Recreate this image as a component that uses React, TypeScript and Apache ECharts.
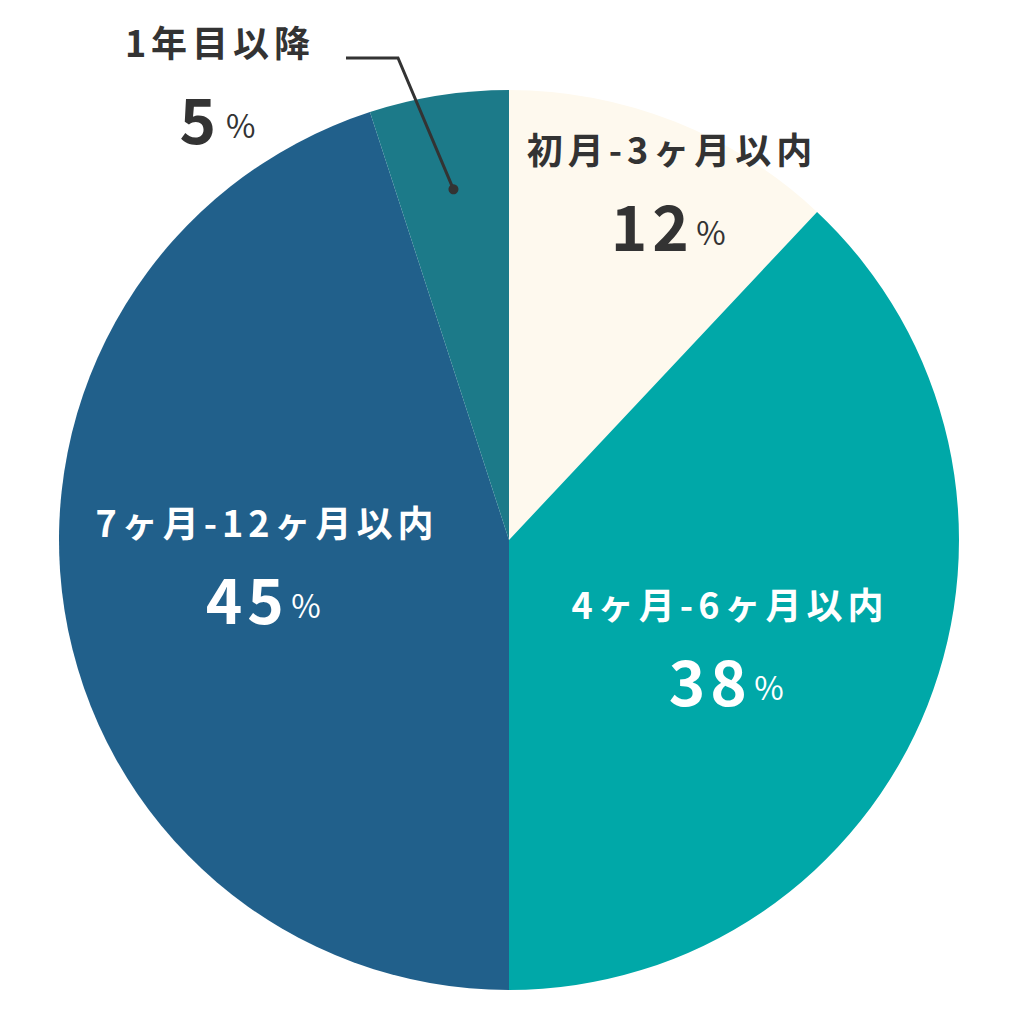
import { useEffect, useRef } from "react";
import * as echarts from "echarts";

const categories = ["初月-3ヶ月以内", "4ヶ月-6ヶ月以内", "7ヶ月-12ヶ月以内", "1年目以降"];
const shares = [12, 38, 45, 5];
const sliceColors = ["#FEF9EE", "#00A8A8", "#21608B", "#1C7A89"];
const labelColors = ["#333333", "#ffffff", "#ffffff", "#333333"];

// label block centres
const labelSpots = [
  [672, 187],
  [730, 642],
  [267, 560],
  [220, 80],
];

const CX = 509;
const CY = 540;
const R = 450;

function midPoint(index: number, r: number) {
  const total = shares.reduce((a, b) => a + b, 0);
  const before = shares.slice(0, index).reduce((a, b) => a + b, 0);
  const mid = ((before + shares[index] / 2) / total) * Math.PI * 2;
  return [CX + r * Math.sin(mid), CY - r * Math.cos(mid)];
}

export default function App() {
  const ref = useRef<HTMLDivElement>(null);

  useEffect(() => {
    if (!ref.current) return;
    const chart = echarts.init(ref.current, null, { renderer: "svg" });
    const dot = midPoint(3, 355);

    chart.setOption({
      animation: false,
      backgroundColor: "#ffffff",
      textStyle: { fontFamily: "'Noto Sans CJK JP', 'Noto Sans', sans-serif" },
      graphic: [
        {
          type: "polyline",
          shape: { points: [dot, [398, 58], [346, 58]] },
          style: { stroke: "#333333", lineWidth: 3, fill: "none" },
          z: 10,
        },
        {
          type: "circle",
          shape: { cx: dot[0], cy: dot[1], r: 5 },
          style: { fill: "#333333" },
          z: 10,
        },
      ],
      series: [
        {
          type: "pie",
          center: [CX, CY],
          radius: [0, R],
          startAngle: 90,
          clockwise: true,
          avoidLabelOverlap: false,
          itemStyle: { borderWidth: 0 },
          emphasis: { disabled: true },
          labelLine: { show: false },
          label: {
            show: true,
            position: "inside",
            align: "center",
            verticalAlign: "middle",
            formatter: (p: any) => `{name|${p.name}}\n{val|${p.value}}{pct|%}`,
            rich: {
              name: { fontSize: 36, fontWeight: "bold", lineHeight: 74, align: "center" },
              val: { fontSize: 62, fontWeight: "bold", lineHeight: 78 },
              pct: { fontSize: 32, fontWeight: "normal", lineHeight: 78, padding: [14, 0, 0, 10] },
            },
          },
          labelLayout: (params: any) => {
            const i = params.dataIndex;
            return {
              x: labelSpots[i][0],
              y: labelSpots[i][1],
              align: "center",
              verticalAlign: "middle",
            };
          },
          data: categories.map((name, i) => ({
            name,
            value: shares[i],
            itemStyle: { color: sliceColors[i] },
            label: { color: labelColors[i] },
          })),
        },
      ],
    });

    return () => chart.dispose();
  }, []);

  return (
    <>
      <style>{"#pie text { letter-spacing: 5px; }"}</style>
      <div
        id="pie"
        ref={ref}
        style={{ position: "fixed", left: 0, top: 0, width: 1018, height: 1018 }}
      />
    </>
  );
}
